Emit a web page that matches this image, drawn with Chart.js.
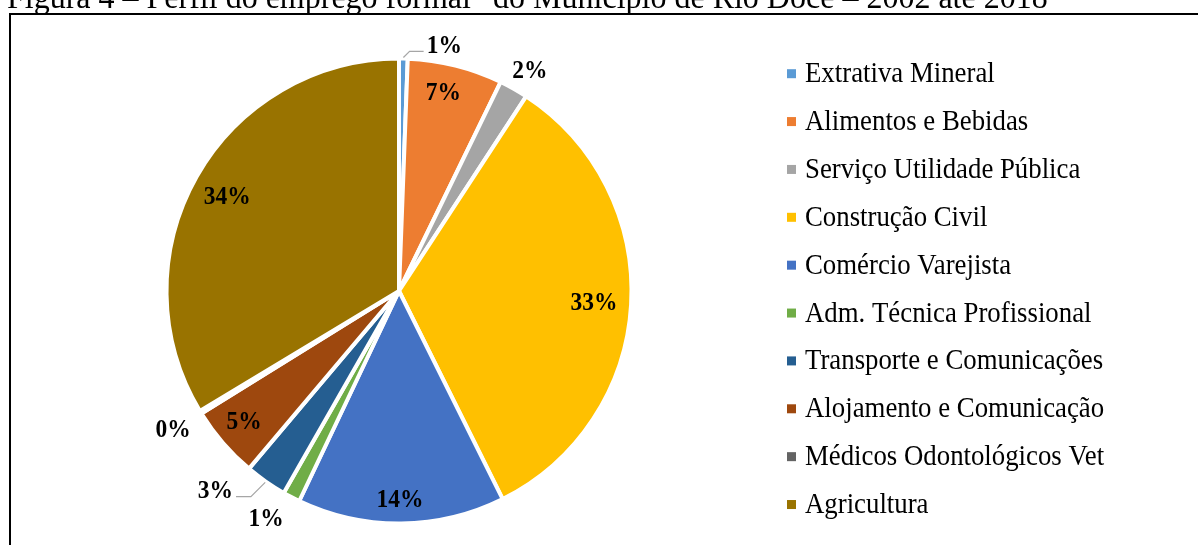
<!DOCTYPE html>
<html lang="pt">
<head>
<meta charset="utf-8">
<title>Perfil do emprego formal – Rio Doce</title>
<script src="https://cdn.jsdelivr.net/npm/chart.js@4.4.1/dist/chart.umd.min.js"></script>
<style>
  html, body { margin: 0; padding: 0; background: #fff; }
  #wrap { position: relative; width: 1198px; height: 545px; }
</style>
</head>
<body>
<div id="wrap"><canvas id="pieChart" width="1198" height="545"></canvas></div>
<script>
// ----- Data -----
const figureTitle = 'Figura 4 – Perfil do emprego formal” do Município de Rio Doce – 2002 até 2018';
const sectors = [
  'Extrativa Mineral', 'Alimentos e Bebidas', 'Serviço Utilidade Pública',
  'Construção Civil', 'Comércio Varejista', 'Adm. Técnica Profissional',
  'Transporte e Comunicações', 'Alojamento e Comunicação',
  'Médicos Odontológicos Vet', 'Agricultura'
];
const shares = [0.6, 6.6, 2.0, 33.4, 14.4, 1.2, 2.9, 5.0, 0.2, 33.6];
const sectorColors = [
  '#5B9BD5', '#ED7D31', '#A5A5A5', '#FFC000', '#4472C4',
  '#70AD47', '#255E91', '#9E480E', '#636363', '#997300'
];

// ----- Label layout: radius factor, angle nudge (deg), leader side -----
const labelRadius = [1.07, 0.87, 1.10, 0.84, 0.90, 1.137, 1.17, 0.875, 1.142, 0.84];
const labelTurn   = [9.4, -1.4, 1.2, 0.3, 0.3, 2.6, 7.5, 0.4, -0.3, -1.0];
const labelLeader = [1, 0, 0, 0, 0, 0, -1, 0, 0, 0];

const SERIF = "'Liberation Serif', 'Times New Roman', serif";
const TEXT_STRETCH = 1.07;

function stretchText(ctx, text, x, y) {
  ctx.save();
  ctx.translate(x, y);
  ctx.scale(1, TEXT_STRETCH);
  ctx.fillText(text, 0, 0);
  ctx.restore();
}

// Title (cut by the top edge) and the frame around the figure
const frameAndTitle = {
  id: 'frameAndTitle',
  beforeDraw(chart) {
    const ctx = chart.ctx;
    ctx.save();
    ctx.fillStyle = '#fff';
    ctx.fillRect(0, 0, chart.width, chart.height);
    ctx.fillStyle = '#000';
    ctx.font = '32px ' + SERIF;
    ctx.textAlign = 'left';
    ctx.textBaseline = 'alphabetic';
    stretchText(ctx, figureTitle, 7, 8);
    ctx.fillRect(9, 13, chart.width - 9, 2);
    ctx.fillRect(9, 13, 2, chart.height - 13);
    ctx.restore();
  }
};

// Percentage labels, with leader lines for the thin slices
const sliceLabels = {
  id: 'sliceLabels',
  afterDatasetsDraw(chart) {
    const ctx = chart.ctx;
    const arcs = chart.getDatasetMeta(0).data;
    const values = chart.data.datasets[0].data;
    const total = values.reduce((a, b) => a + b, 0);
    ctx.save();
    ctx.font = 'bold 23.5px ' + SERIF;
    ctx.fillStyle = '#000';
    ctx.textAlign = 'center';
    ctx.textBaseline = 'middle';
    arcs.forEach((arc, i) => {
      const mid = (arc.startAngle + arc.endAngle) / 2;
      const ang = mid + labelTurn[i] * Math.PI / 180;
      const r = arc.outerRadius * labelRadius[i];
      const lx = arc.x + Math.cos(ang) * r;
      const ly = arc.y + Math.sin(ang) * r;
      const text = Math.round(values[i] / total * 100) + '%';
      stretchText(ctx, text, lx, ly);

      if (labelLeader[i]) {
        const side = labelLeader[i];
        const half = ctx.measureText(text).width / 2;
        const sx = arc.x + Math.cos(mid) * (arc.outerRadius + 1);
        const sy = arc.y + Math.sin(mid) * (arc.outerRadius + 1);
        const yLine = ly + 5;
        const ex = sx + side * Math.abs(sy - yLine);
        const tx = lx - side * (half + 3);
        ctx.save();
        ctx.strokeStyle = '#A6A6A6';
        ctx.lineWidth = 1.2;
        ctx.beginPath();
        ctx.moveTo(sx, sy);
        ctx.lineTo(ex, yLine);
        ctx.lineTo(tx, yLine);
        ctx.stroke();
        ctx.restore();
      }
    });
    ctx.restore();
  }
};

// Legend on the right, one row per sector
const sideLegend = {
  id: 'sideLegend',
  afterDraw(chart) {
    const ctx = chart.ctx;
    const labels = chart.data.labels;
    const colors = chart.data.datasets[0].backgroundColor;
    const boxX = 787, textX = 805, firstY = 73.7, step = 47.87;
    ctx.save();
    ctx.font = '26.8px ' + SERIF;
    ctx.textAlign = 'left';
    ctx.textBaseline = 'alphabetic';
    labels.forEach((label, i) => {
      const cy = firstY + i * step;
      ctx.fillStyle = colors[i];
      ctx.fillRect(boxX, cy - 4.5, 9, 9);
      ctx.fillStyle = '#000';
      stretchText(ctx, label, textX, cy + 8.5);
    });
    ctx.restore();
  }
};

new Chart(document.getElementById('pieChart'), {
  type: 'pie',
  data: {
    labels: sectors,
    datasets: [{
      data: shares,
      backgroundColor: sectorColors,
      borderColor: '#fff',
      borderWidth: 4
    }]
  },
  options: {
    responsive: false,
    animation: false,
    radius: 232.5,
    layout: { padding: { left: 168, top: 60, right: 568, bottom: 23 } },
    plugins: {
      legend: { display: false },
      tooltip: { enabled: false }
    }
  },
  plugins: [frameAndTitle, sliceLabels, sideLegend]
});
</script>
</body>
</html>
